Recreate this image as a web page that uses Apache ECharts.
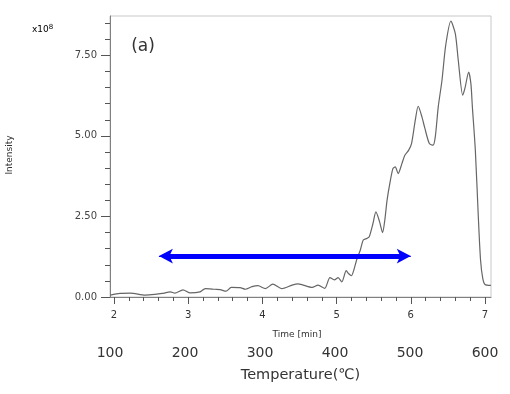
<!DOCTYPE html>
<html>
<head>
<meta charset="utf-8">
<script src="https://cdn.jsdelivr.net/npm/echarts@6/dist/echarts.min.js"></script>
<style>html,body{margin:0;padding:0;background:#fff;}#c{width:510px;height:394px;}</style>
</head>
<body>
<div id="c"></div>
<script>
// Data
const timeMin = [1.95, 2.08, 2.22, 2.42, 2.55, 2.65, 2.76, 2.82, 2.93, 3.02,
  3.16, 3.23, 3.36, 3.43, 3.51, 3.58, 3.70, 3.77, 3.86, 3.94,
  4.04, 4.14, 4.26, 4.40, 4.48, 4.55, 4.67, 4.75, 4.84, 4.91,
  4.97, 5.02, 5.07, 5.13, 5.16, 5.20, 5.23, 5.27, 5.32, 5.36,
  5.41, 5.44, 5.49, 5.53, 5.58, 5.62, 5.65, 5.68, 5.72, 5.76,
  5.79, 5.83, 5.88, 5.92, 5.97, 6.01, 6.06, 6.10, 6.15, 6.19,
  6.25, 6.30, 6.33, 6.37, 6.42, 6.47, 6.54, 6.60, 6.64, 6.70,
  6.73, 6.78, 6.81, 6.83, 6.87, 6.91, 6.94, 6.97, 7.00, 7.08];
const intensity = [0.06, 0.11, 0.12, 0.06, 0.08, 0.11, 0.16, 0.12, 0.22, 0.13,
  0.16, 0.26, 0.24, 0.23, 0.18, 0.30, 0.29, 0.24, 0.32, 0.35,
  0.26, 0.40, 0.26, 0.37, 0.41, 0.37, 0.30, 0.37, 0.27, 0.60,
  0.53, 0.60, 0.47, 0.82, 0.73, 0.66, 0.82, 1.15, 1.46, 1.77,
  1.82, 1.87, 2.28, 2.64, 2.33, 2.00, 2.39, 3.00, 3.56, 3.99,
  4.04, 3.83, 4.14, 4.40, 4.55, 4.76, 5.48, 5.92, 5.59, 5.23,
  4.76, 4.71, 4.97, 5.90, 6.72, 7.80, 8.56, 8.17, 7.34, 6.26,
  6.48, 6.98, 6.62, 5.90, 4.55, 2.49, 1.15, 0.58, 0.39, 0.36];

const timeLabels = [2, 3, 4, 5, 6, 7];
const timeMinorTicks = [2.0, 2.2, 2.4, 2.6, 2.8, 3.0, 3.2, 3.4, 3.6, 3.8, 4.0, 4.2, 4.4, 4.6, 4.8,
  5.0, 5.2, 5.4, 5.6, 5.8, 6.0, 6.2, 6.4, 6.6, 6.8, 7.0];
const intensityLabels = [0, 2.5, 5, 7.5];
const intensityMinorTicks = [0, 0.5, 1, 1.5, 2, 2.5, 3, 3.5, 4, 4.5, 5, 5.5, 6, 6.5, 7, 7.5, 8, 8.5];
const temperatureLabels = [100, 200, 300, 400, 500, 600];
// double-headed arrow (tips), in axis units
const arrowStart = [2.605, 1.27];
const arrowEnd = [6.0, 1.27];

const tMin = 1.946, tMax = 7.081;
const yMax = 8.72;
const axisGray = '#808080';
const font = 'DejaVu Sans';
const shaftInset = 0.08; // keep the thick shaft behind the arrow heads

const chart = echarts.init(document.getElementById('c'), null, {renderer: 'canvas'});
chart.setOption({
  animation: false,
  backgroundColor: '#fff',
  grid: {left: 110, top: 16, right: 19, bottom: 97, show: true, borderColor: '#c8c8c8', borderWidth: 1, backgroundColor: 'transparent'},
  xAxis: [
    {
      type: 'value', position: 'bottom', min: tMin, max: tMax,
      axisLine: {onZero: false, lineStyle: {color: axisGray, width: 1}},
      axisTick: {show: true, customValues: timeMinorTicks, length: 4, lineStyle: {color: '#555'}},
      axisLabel: {customValues: timeLabels, margin: 13, fontSize: 10, fontFamily: font, color: '#333'},
      splitLine: {show: false}
    },
    {
      type: 'value', position: 'bottom', min: tMin, max: tMax,
      axisLine: {show: false, onZero: false},
      axisTick: {show: true, customValues: timeLabels, length: 7, lineStyle: {color: '#555'}},
      axisLabel: {show: false},
      splitLine: {show: false}
    },
    {
      type: 'value', position: 'bottom', offset: 40, min: 100, max: 608,
      axisLine: {show: false, onZero: false},
      axisTick: {show: false},
      axisLabel: {customValues: temperatureLabels, margin: 9, fontSize: 14, fontFamily: font, color: '#333'},
      splitLine: {show: false},
      name: 'Temperature(℃)', nameLocation: 'middle', nameGap: 31,
      nameTextStyle: {fontSize: 14.5, fontFamily: font, color: '#333'}
    }
  ],
  yAxis: [
    {
      type: 'value', position: 'left', min: 0, max: yMax,
      axisLine: {show: true, onZero: false, lineStyle: {color: axisGray, width: 1}},
      axisTick: {show: true, customValues: intensityMinorTicks, length: 5, lineStyle: {color: '#555'}},
      axisLabel: {customValues: intensityLabels, margin: 13, fontSize: 10, fontFamily: font, color: '#444',
        formatter: v => v.toFixed(2)},
      splitLine: {show: false}
    },
    {
      type: 'value', position: 'left', min: 0, max: yMax,
      axisLine: {show: false, onZero: false},
      axisTick: {show: true, customValues: intensityLabels, length: 9, lineStyle: {color: '#555'}},
      axisLabel: {show: false},
      splitLine: {show: false}
    }
  ],
  graphic: [
    {type: 'text', x: 143, y: 47, silent: true,
      style: {text: '(a)', font: '17px "DejaVu Sans"', fill: '#333', align: 'center', verticalAlign: 'middle'}},
    {type: 'text', x: 297, y: 335, silent: true,
      style: {text: 'Time [min]', font: '9px "DejaVu Sans"', fill: '#333', align: 'center', verticalAlign: 'middle'}},
    {type: 'text', x: 10, y: 155, rotation: Math.PI / 2, silent: true,
      style: {text: 'Intensity', font: '9px "DejaVu Sans"', fill: '#333', align: 'center', verticalAlign: 'middle'}},
    {type: 'text', x: 32, y: 30, silent: true,
      style: {text: '{b|x10}{s|8}', align: 'left', verticalAlign: 'middle',
        rich: {b: {fontSize: 9, fontFamily: font, color: '#333'},
               s: {fontSize: 7, fontFamily: font, color: '#333', verticalAlign: 'top', padding: [0, 0, 6, 0]}}}}
  ],
  series: [
    {
      type: 'line', xAxisIndex: 0, yAxisIndex: 0,
      data: timeMin.map((t, i) => [t, intensity[i]]),
      showSymbol: false, smooth: 0.25,
      lineStyle: {color: '#666', width: 1.2},
      clip: true,
      markLine: {
        silent: true, animation: false,
        symbol: ['none', 'none'],
        label: {show: false},
        emphasis: {disabled: true},
        data: [
          [
            {coord: arrowStart, symbol: 'arrow', symbolSize: [11, 14], lineStyle: {color: '#0000ff', width: 1, type: 'solid'}},
            {coord: arrowEnd, symbol: 'arrow', symbolSize: [11, 14]}
          ],
          [
            {coord: [arrowStart[0] + shaftInset, arrowStart[1]], symbol: 'none', lineStyle: {color: '#0000ff', width: 5, type: 'solid'}},
            {coord: [arrowEnd[0] - shaftInset, arrowEnd[1]], symbol: 'none'}
          ]
        ]
      }
    }
  ]
});
</script>
</body>
</html>
